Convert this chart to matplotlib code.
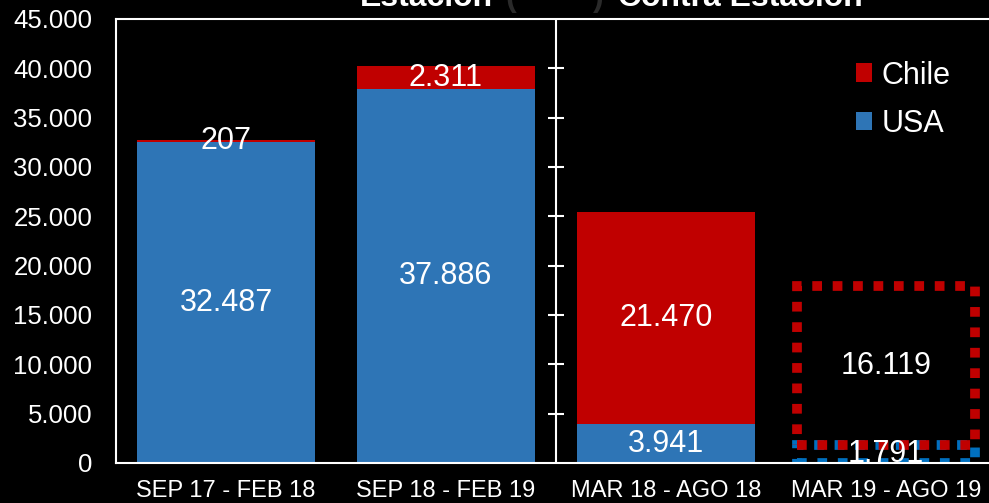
import matplotlib.pyplot as plt
import numpy as np

periodos = ["SEP 17 - FEB 18", "SEP 18 - FEB 19", "MAR 18 - AGO 18", "MAR 19 - AGO 19"]
usa = [32487, 37886, 3941, 1791]
chile = [207, 2311, 21470, 16119]
yticks = [0, 5000, 10000, 15000, 20000, 25000, 30000, 35000, 40000, 45000]

azul = "#2E75B6"
rojo = "#C00000"
fuente = "Liberation Sans"

def fmt(v):
    return f"{v:,}".replace(",", ".")

plt.rcParams["font.family"] = [fuente, "DejaVu Sans"]

fig = plt.figure(figsize=(9.89, 5.03), dpi=100, facecolor="black")
ax = fig.add_axes([116/989, 40/503, 880/989, 444/503], facecolor="black")

x = np.arange(len(periodos))
w = 0.81

# bares llenos (3 primeros)
ax.bar(x[:3], usa[:3], w, color=azul, label="USA")
ax.bar(x[:3], chile[:3], w, bottom=usa[:3], color=rojo, label="Chile")

# ultimo periodo: solo contorno punteado
ax.bar(x[3:], usa[3:], w, fill=False, edgecolor="#0070C0", linewidth=7,
       linestyle=(0, (1.0, 1.1)), capstyle="butt")
ax.bar(x[3:], chile[3:], w, bottom=usa[3:], fill=False, edgecolor=rojo, linewidth=7,
       linestyle=(0, (1.0, 1.1)), capstyle="butt")

# etiquetas de datos
for i in range(len(periodos)):
    ax.text(x[i], usa[i] / 2, fmt(usa[i]), ha="center", va="center",
            color="white", fontsize=22)
    ax.text(x[i], usa[i] + chile[i] / 2, fmt(chile[i]), ha="center", va="center",
            color="white", fontsize=22)

# linea divisoria con marcas
ax.axvline(1.5, color="white", lw=1.5)
ax.plot([1.5] * (len(yticks) - 2), yticks[1:-1], ls="none", marker="_",
        ms=12, mew=1.5, color="white")

ax.set_xlim(-0.5, 3.5)
ax.set_ylim(0, 45000)
ax.set_yticks(yticks)
ax.set_yticklabels([fmt(v) for v in yticks])
ax.set_xticks(x)
ax.set_xticklabels(periodos)
ax.tick_params(axis="y", length=0, pad=17, labelsize=18.5, colors="white")
ax.tick_params(axis="x", length=0, pad=12, labelsize=17, colors="white")
for s in ax.spines.values():
    s.set_color("white")
    s.set_linewidth(1.5)

h, l = ax.get_legend_handles_labels()
leg = ax.legend(h[::-1], l[::-1], loc="upper left", bbox_to_anchor=(828/989, 1 - 33/503),
                bbox_transform=fig.transFigure, frameon=False, fontsize=22,
                handlelength=0.55, handleheight=0.55, handletextpad=0.3,
                labelspacing=0.6, labelcolor="white")

# titulo (cortado arriba)
ty = 1 - 5.7/503
fig.text(493/989, ty, "Estación", ha="right", va="baseline", color="white",
         fontsize=23, fontweight="bold")
fig.text(505/989, ty, "(", ha="left", va="baseline", color="#2A2A2A",
         fontsize=23, fontweight="bold")
fig.text(604/989, ty, ")", ha="right", va="baseline", color="#2A2A2A",
         fontsize=23, fontweight="bold")
fig.text(618/989, ty, "Contra Estación", ha="left", va="baseline", color="white",
         fontsize=23, fontweight="bold")

fig.savefig("out.png", dpi=100, facecolor="black")
